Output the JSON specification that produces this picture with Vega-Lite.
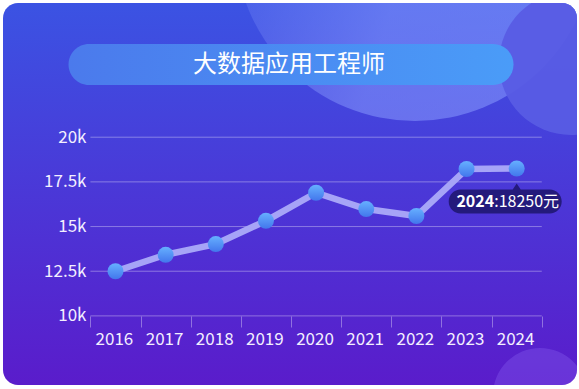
{
  "$schema": "https://vega.github.io/schema/vega-lite/v6.json",
  "width": 574,
  "height": 382,
  "autosize": {"type": "none"},
  "padding": {"left": 3, "top": 3, "right": 2, "bottom": 4},
  "background": "#ffffff",
  "view": {
    "fill": {"gradient": "linear", "x1": 0, "y1": 0, "x2": 0, "y2": 1, "stops": [{"offset": 0, "color": "#3b53e3"}, {"offset": 1, "color": "#5a1ccb"}]},
    "stroke": null,
    "cornerRadius": 15
  },
  "datasets": {
    "salary": [
      {"year": 2016, "salary": 12500},
      {"year": 2017, "salary": 13420},
      {"year": 2018, "salary": 14020},
      {"year": 2019, "salary": 15320},
      {"year": 2020, "salary": 16890},
      {"year": 2021, "salary": 15980},
      {"year": 2022, "salary": 15590},
      {"year": 2023, "salary": 18220},
      {"year": 2024, "salary": 18250}
    ],
    "grid": [{"v": 10000}, {"v": 12500}, {"v": 15000}, {"v": 17500}, {"v": 20000}]
  },
  "data": {"name": "salary"},
  "layer": [
    {
      "transform": [{"filter": "datum.year == 2024"}],
      "mark": {
        "type": "point", "shape": "circle", "filled": true, "size": 129600, "opacity": 1, "strokeWidth": 0, "clip": true,
        "fill": {"gradient": "linear", "x1": 0, "y1": 0.5, "x2": 1, "y2": 0.8, "stops": [{"offset": 0.05, "color": "rgba(138,156,255,0.2)"}, {"offset": 0.45, "color": "rgba(138,156,255,0.52)"}, {"offset": 1, "color": "rgba(138,156,255,0.55)"}]}
      },
      "encoding": {
        "x": {"datum": 2021.972, "type": "quantitative", "scale": {"domain": [2013.7567, 2025.2024], "nice": false, "zero": false}},
        "y": {"datum": 30980, "type": "quantitative", "scale": {"domain": [6133, 27510], "nice": false, "zero": false}}
      }
    },
    {
      "transform": [{"filter": "datum.year == 2024"}],
      "mark": {"type": "point", "shape": "circle", "filled": true, "size": 20736, "fill": "#585ce4", "opacity": 0.95, "strokeWidth": 0, "clip": true},
      "encoding": {
        "x": {"datum": 2025.083, "type": "quantitative", "scale": {"domain": [2013.7567, 2025.2024], "nice": false, "zero": false}},
        "y": {"datum": 24152, "type": "quantitative", "scale": {"domain": [6133, 27510], "nice": false, "zero": false}}
      }
    },
    {
      "transform": [{"filter": "datum.year == 2024"}],
      "mark": {"type": "point", "shape": "circle", "filled": true, "size": 8836, "fill": "#9a7bff", "opacity": 0.25, "strokeWidth": 0, "clip": true},
      "encoding": {
        "x": {"datum": 2024.465, "type": "quantitative", "scale": {"domain": [2013.7567, 2025.2024], "nice": false, "zero": false}},
        "y": {"datum": 5574, "type": "quantitative", "scale": {"domain": [6133, 27510], "nice": false, "zero": false}}
      }
    },
    {
      "transform": [{"filter": "datum.year == 2024"}],
      "mark": {
        "type": "point",
        "shape": "M-202,-20.5 L202,-20.5 A20.5,20.5 0 0 1 202,20.5 L-202,20.5 A20.5,20.5 0 0 1 -202,-20.5 Z",
        "size": 4,
        "filled": true,
        "opacity": 1,
        "strokeWidth": 0,
        "fill": {"gradient": "linear", "x1": 0, "y1": 0, "x2": 1, "y2": 0, "stops": [{"offset": 0, "color": "#4b7aec"}, {"offset": 1, "color": "#4a9cf8"}]}
      },
      "encoding": {
        "x": {"datum": 2019.5, "type": "quantitative", "scale": {"domain": [2013.7567, 2025.2024], "nice": false, "zero": false}},
        "y": {"datum": 24070, "type": "quantitative", "scale": {"domain": [6133, 27510], "nice": false, "zero": false}}
      }
    },
    {
      "transform": [{"filter": "datum.year == 2024"}],
      "mark": {"type": "text", "font": "Noto Sans CJK SC", "fontSize": 24, "color": "#ffffff", "align": "center", "baseline": "middle", "dx": -2, "dy": 1},
      "encoding": {
        "x": {"datum": 2019.5, "type": "quantitative", "scale": {"domain": [2013.7567, 2025.2024], "nice": false, "zero": false}},
        "y": {"datum": 24070, "type": "quantitative", "scale": {"domain": [6133, 27510], "nice": false, "zero": false}},
        "text": {"value": "大数据应用工程师"}
      }
    },
    {
      "data": {"name": "grid"},
      "mark": {"type": "rule", "stroke": "#ffffff", "strokeOpacity": 0.35, "strokeWidth": 1},
      "encoding": {
        "x": {"datum": 2015.5, "type": "quantitative", "scale": {"domain": [2013.7567, 2025.2024], "nice": false, "zero": false}},
        "x2": {"datum": 2024.5},
        "y": {"field": "v", "type": "quantitative", "scale": {"domain": [6133, 27510], "nice": false, "zero": false}}
      }
    },
    {
      "mark": {"type": "line", "stroke": "#a6a4f7", "strokeWidth": 6.5, "strokeCap": "round", "strokeJoin": "round"},
      "encoding": {
        "x": {
          "field": "year", "type": "quantitative",
          "scale": {"domain": [2013.7567, 2025.2024], "nice": false, "zero": false},
          "axis": {
            "title": null,
            "values": [2015.5, 2016.5, 2017.5, 2018.5, 2019.5, 2020.5, 2021.5, 2022.5, 2023.5, 2024.5],
            "labelExpr": "datum.value < 2024 ? format(datum.value + 0.5, 'd') : ''",
            "labelOffset": 23.5,
            "domain": false,
            "ticks": true,
            "tickSize": 11,
            "tickWidth": 1,
            "tickColor": "rgba(255,255,255,0.35)",
            "grid": false,
            "offset": -69,
            "labelPadding": 4,
            "labelFont": "Noto Sans CJK SC",
            "labelFontSize": 17,
            "labelColor": "#f3efff",
            "labelOverlap": false,
            "labelFlush": false,
            "labelBound": false
          }
        },
        "y": {
          "field": "salary", "type": "quantitative",
          "scale": {"domain": [6133, 27510], "nice": false, "zero": false},
          "axis": {
            "title": null,
            "values": [10000, 12500, 15000, 17500, 20000],
            "labelExpr": "(datum.value / 1000) + 'k'",
            "domain": false,
            "ticks": false,
            "tickSize": 0,
            "grid": false,
            "offset": -85,
            "labelPadding": 2,
            "labelFont": "Noto Sans CJK SC",
            "labelFontSize": 17,
            "labelColor": "#f3efff",
            "labelOverlap": false,
            "labelBound": false
          }
        }
      }
    },
    {
      "mark": {
        "type": "point", "shape": "circle", "filled": true, "size": 256, "opacity": 1, "strokeWidth": 0,
        "fill": {"gradient": "linear", "x1": 0, "y1": 0, "x2": 0, "y2": 1, "stops": [{"offset": 0, "color": "#66b0ff"}, {"offset": 1, "color": "#4276ec"}]}
      },
      "encoding": {
        "x": {"field": "year", "type": "quantitative", "scale": {"domain": [2013.7567, 2025.2024], "nice": false, "zero": false}},
        "y": {"field": "salary", "type": "quantitative", "scale": {"domain": [6133, 27510], "nice": false, "zero": false}}
      }
    },
    {
      "transform": [{"filter": "datum.year == 2024"}],
      "mark": {
        "type": "point",
        "shape": "M-56,21 L-4,21 L0,15 L4,21 L33,21 A12,12 0 0 1 33,45 L-56,45 A12,12 0 0 1 -56,21 Z",
        "size": 4, "filled": true, "opacity": 1, "strokeWidth": 0, "fill": "#241a7c"
      },
      "encoding": {
        "x": {"field": "year", "type": "quantitative", "scale": {"domain": [2013.7567, 2025.2024], "nice": false, "zero": false}},
        "y": {"field": "salary", "type": "quantitative", "scale": {"domain": [6133, 27510], "nice": false, "zero": false}}
      }
    },
    {
      "transform": [{"filter": "datum.year == 2024"}],
      "mark": {"type": "text", "font": "Noto Sans CJK SC", "fontSize": 16, "fontWeight": "bold", "color": "#ffffff", "align": "right", "baseline": "middle", "dx": -22.5, "dy": 34},
      "encoding": {
        "x": {"field": "year", "type": "quantitative", "scale": {"domain": [2013.7567, 2025.2024], "nice": false, "zero": false}},
        "y": {"field": "salary", "type": "quantitative", "scale": {"domain": [6133, 27510], "nice": false, "zero": false}},
        "text": {"field": "year", "type": "quantitative", "format": "d"}
      }
    },
    {
      "transform": [{"filter": "datum.year == 2024"}],
      "mark": {"type": "text", "font": "Noto Sans CJK SC", "fontSize": 16, "color": "#ffffff", "align": "left", "baseline": "middle", "dx": -22.5, "dy": 34},
      "encoding": {
        "x": {"field": "year", "type": "quantitative", "scale": {"domain": [2013.7567, 2025.2024], "nice": false, "zero": false}},
        "y": {"field": "salary", "type": "quantitative", "scale": {"domain": [6133, 27510], "nice": false, "zero": false}},
        "text": {"value": ":18250元"}
      }
    }
  ]
}
